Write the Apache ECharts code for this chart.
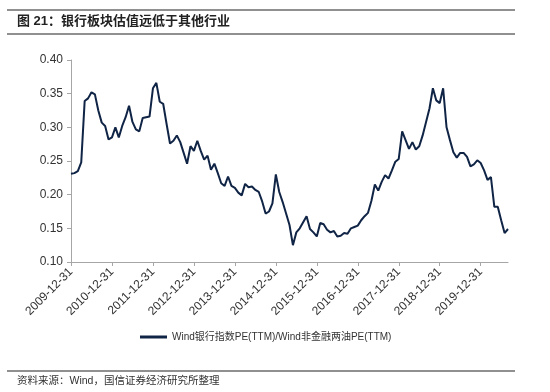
<!DOCTYPE html>
<html>
<head>
<meta charset="utf-8">
<script src="https://cdn.jsdelivr.net/npm/echarts@6/dist/echarts.min.js"></script>
<style>
  html, body { margin: 0; padding: 0; background: #fff; }
  #chart { width: 550px; height: 392px; }
</style>
</head>
<body>
<div id="chart"></div>
<script>
var FONT = "'Liberation Sans', 'Noto Sans CJK SC', sans-serif"

// 月末日期，2009-12 至 2020-08
var startYear = 2009
var startMonth = 11
var monthCount = 129

var titleText = '图 21：银行板块估值远低于其他行业'
var sourceText = '资料来源：Wind，国信证券经济研究所整理'
var seriesName = 'Wind银行指数PE(TTM)/Wind非金融两油PE(TTM)'

var ratio = [
  0.231, 0.232, 0.235, 0.248, 0.339, 0.343, 0.352, 0.349, 0.325, 0.307, 0.302, 0.282,
  0.285, 0.300, 0.285, 0.302, 0.315, 0.332, 0.308, 0.297, 0.294, 0.314, 0.315, 0.316,
  0.358, 0.366, 0.338, 0.335, 0.305, 0.276, 0.280, 0.288, 0.278, 0.262, 0.246, 0.272,
  0.265, 0.280, 0.265, 0.252, 0.258, 0.237, 0.246, 0.232, 0.217, 0.213, 0.227, 0.213,
  0.210, 0.203, 0.199, 0.216, 0.211, 0.212, 0.207, 0.204, 0.190, 0.172, 0.175, 0.187,
  0.230, 0.204, 0.189, 0.172, 0.155, 0.125, 0.144, 0.150, 0.159, 0.168, 0.149, 0.144,
  0.138, 0.158, 0.156, 0.148, 0.144, 0.146, 0.138, 0.139, 0.143, 0.142, 0.150, 0.152,
  0.154, 0.162, 0.168, 0.173, 0.191, 0.215, 0.206, 0.219, 0.229, 0.224, 0.236, 0.249,
  0.253, 0.294, 0.281, 0.268, 0.278, 0.267, 0.272, 0.288, 0.308, 0.328, 0.358, 0.340,
  0.336, 0.358, 0.300, 0.281, 0.263, 0.255, 0.262, 0.262, 0.256, 0.242, 0.245, 0.251,
  0.247, 0.236, 0.222, 0.226, 0.182, 0.182, 0.162, 0.143, 0.149
]

function pad(n) { return n < 10 ? '0' + n : '' + n }
var dates = []
for (var i = 0; i < monthCount; i++) {
  var d = new Date(Date.UTC(startYear, startMonth + i + 1, 0))
  dates.push(d.getUTCFullYear() + '-' + pad(d.getUTCMonth() + 1) + '-' + pad(d.getUTCDate()))
}

var myChart = echarts.init(document.getElementById('chart'))

var yearly = function (index) { return index % 12 === 0 }

var option = {
  backgroundColor: '#fff',
  animation: false,
  textStyle: { fontFamily: FONT },
  grid: { left: 71, right: 42, top: 60, bottom: 130 },
  legend: {
    left: 135,
    top: 327,
    icon: 'rect',
    itemWidth: 27,
    itemHeight: 3,
    itemGap: 4,
    textStyle: { fontSize: 10, color: '#333', fontFamily: FONT },
    data: [seriesName]
  },
  xAxis: {
    type: 'category',
    boundaryGap: false,
    data: dates,
    axisLine: { lineStyle: { color: '#a6a6a6', width: 1 } },
    axisTick: { interval: yearly, length: 4, lineStyle: { color: '#a6a6a6' } },
    axisLabel: {
      interval: yearly,
      rotate: 45,
      margin: 8,
      fontSize: 12,
      color: '#333',
      fontFamily: FONT
    },
    splitLine: { show: false }
  },
  yAxis: {
    type: 'value',
    min: 0.1,
    max: 0.4,
    interval: 0.05,
    axisLine: { show: true, lineStyle: { color: '#a6a6a6', width: 1 } },
    axisTick: { show: true, length: 4, lineStyle: { color: '#a6a6a6' } },
    axisLabel: {
      margin: 8,
      fontSize: 12,
      color: '#333',
      fontFamily: FONT,
      formatter: function (v) { return v.toFixed(2) }
    },
    splitLine: { show: false }
  },
  series: [
    {
      name: seriesName,
      type: 'line',
      data: ratio,
      showSymbol: false,
      symbol: 'none',
      itemStyle: { color: '#102446' },
      lineStyle: { color: '#102446', width: 2 }
    }
  ],
  graphic: [
    { type: 'line', shape: { x1: 7, y1: 10, x2: 515, y2: 10 }, style: { stroke: '#6b6b6b', lineWidth: 1.5 } },
    { type: 'text', left: 17, top: 15, style: { text: titleText, font: "bold 13px 'Liberation Sans', 'Noto Sans CJK SC', sans-serif", fill: '#222' } },
    { type: 'line', shape: { x1: 7, y1: 34, x2: 515, y2: 34 }, style: { stroke: '#6b6b6b', lineWidth: 1.5 } },
    { type: 'line', shape: { x1: 7, y1: 371, x2: 515, y2: 371 }, style: { stroke: '#6b6b6b', lineWidth: 1.5 } },
    { type: 'text', left: 17, top: 376, style: { text: sourceText, font: "10.5px 'Liberation Sans', 'Noto Sans CJK SC', sans-serif", fill: '#333' } }
  ]
}

myChart.setOption(option)
</script>
</body>
</html>
